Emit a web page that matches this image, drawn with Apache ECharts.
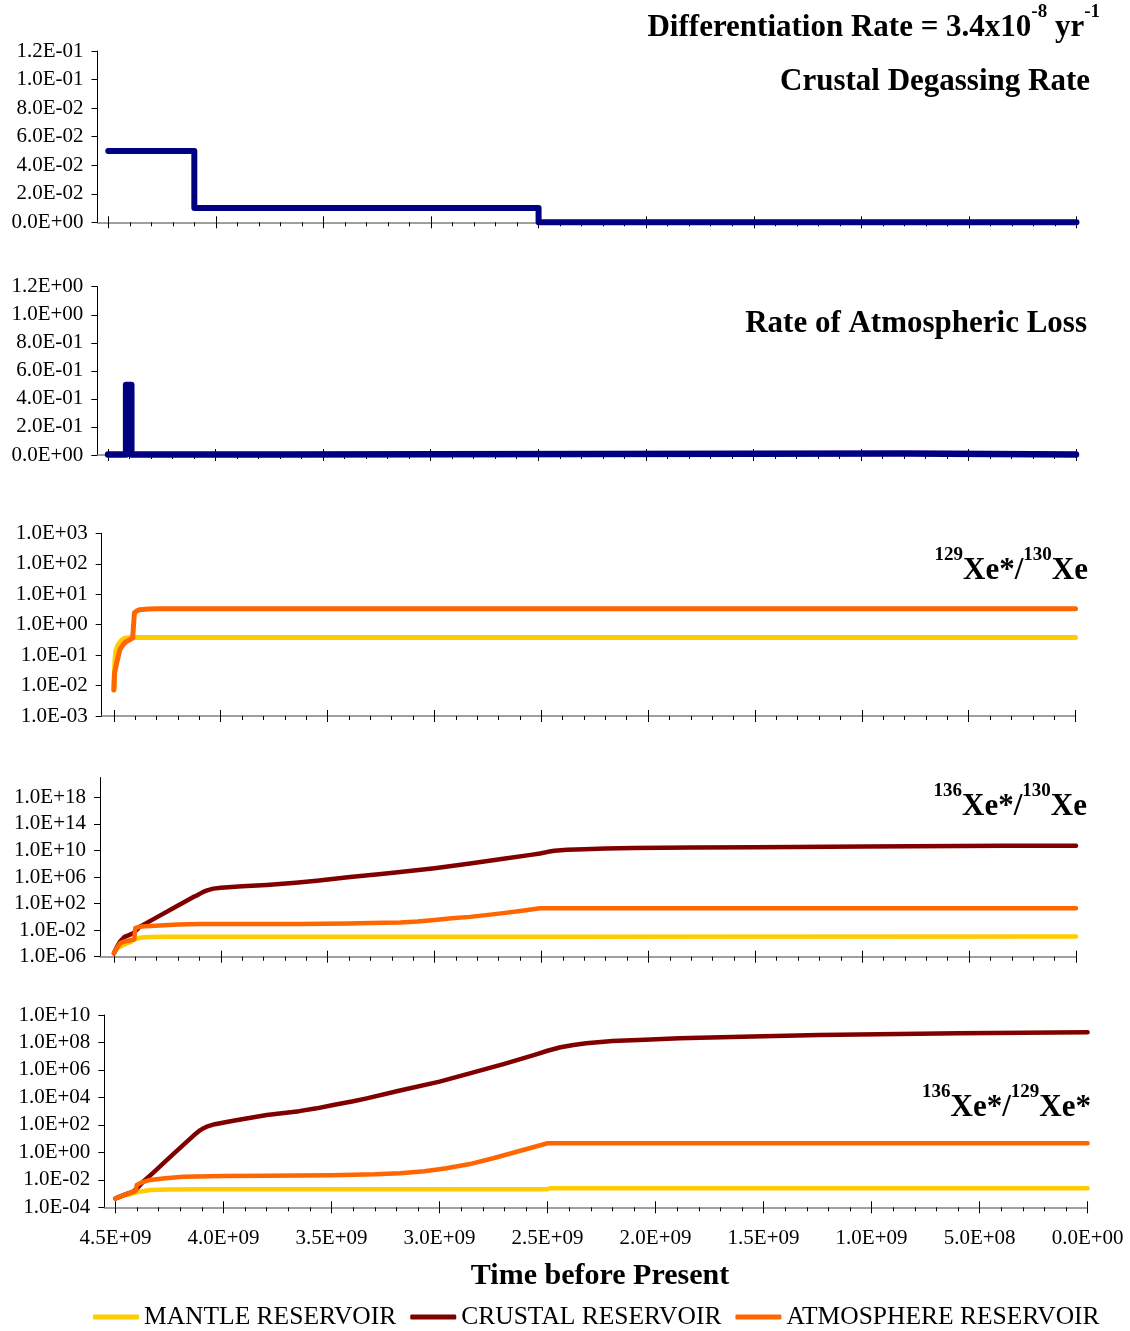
<!DOCTYPE html>
<html>
<head>
<meta charset="utf-8">
<script src="https://cdn.jsdelivr.net/npm/echarts@6/dist/echarts.min.js"></script>
<style>
  html, body { margin: 0; padding: 0; background: #ffffff; }
  #chart { width: 1130px; height: 1331px; }
</style>
</head>
<body>
<div id="chart"></div>
<script>
// ---- Tick values -------------------------------------------------------
const timeTicks = [0, 5e8, 1e9, 1.5e9, 2e9, 2.5e9, 3e9, 3.5e9, 4e9, 4.5e9];
const xe129Ticks = [1e-3, 1e-2, 1e-1, 1, 1e1, 1e2, 1e3];
const xe136Ticks = [1e-6, 1e-2, 1e2, 1e6, 1e10, 1e14, 1e18];
const xe136_129Ticks = [1e-4, 1e-2, 1, 1e2, 1e4, 1e6, 1e8, 1e10];

const reservoirNames = ['MANTLE RESERVOIR', 'CRUSTAL RESERVOIR', 'ATMOSPHERE RESERVOIR'];

// ---- Model output: [time before present (yr), value] -------------------
const crustalDegassingRate = [[4.5e9, 0.05], [4.1e9, 0.05], [4.1e9, 0.01], [2.5e9, 0.01], [2.5e9, 0], [0, 0]];

const atmosphericLossRate = [[4.5e9, 0.004], [4.416e9, 0.004], [4.416e9, 0.5], [4.392e9, 0.5], [4.392e9, 0.004],
  [3.7e9, 0.004], [3.7e9, 0.01], [8e8, 0.01], [8e8, 0.004], [0, 0.004]];

// 129Xe*/130Xe
const mantleXe129_130 = [[4.5e9, 0.0072], [4.497e9, 0.03], [4.495e9, 0.07], [4.49e9, 0.14], [4.48e9, 0.22],
  [4.465e9, 0.3], [4.449e9, 0.36], [4.42e9, 0.38], [0, 0.38]];
const atmosXe129_130 = [[4.5e9, 0.0072], [4.497e9, 0.025], [4.487e9, 0.055], [4.472e9, 0.15], [4.455e9, 0.23],
  [4.441e9, 0.28], [4.412e9, 0.36], [4.406e9, 0.37], [4.404e9, 2.45], [4.39e9, 2.9], [4.378e9, 3.1],
  [4.34e9, 3.25], [4.3e9, 3.3], [0, 3.3]];

// 136Xe*/130Xe
const mantleXe136_130 = [[4.5e9, 3.2e-6], [4.49e9, 1.26e-5], [4.472e9, 3.2e-5], [4.44e9, 1e-4], [4.417e9, 2e-4],
  [4.4e9, 5e-4], [4.394e9, 6.3e-4], [4.36e9, 8.3e-4], [4.33e9, 9.1e-4], [4.254e9, 1e-3], [2.5e9, 1.05e-3],
  [0, 1.07e-3]];
const crustXe136_130 = [[4.5e9, 3.2e-6], [4.495e9, 5.6e-6], [4.485e9, 3.2e-5], [4.472e9, 1.8e-4], [4.45e9, 1e-3],
  [4.43e9, 1.8e-3], [4.41e9, 3.4e-3], [4.395e9, 1e-2], [4.378e9, 3.4e-2], [4.3e9, 0.85], [4.2e9, 52],
  [4.13e9, 930], [4.11e9, 1.8e3], [4.097e9, 3.2e3], [4.08e9, 6.3e3], [4.06e9, 1.1e4], [4.035e9, 1.8e4],
  [4.0e9, 2.5e4], [3.9e9, 4e4], [3.785e9, 6.6e4], [3.65e9, 1.4e5], [3.551e9, 2.8e5], [3.395e9, 1e6],
  [3.25e9, 2.8e6], [3.161e9, 5.6e6], [3.0e9, 2.2e7], [2.834e9, 1.1e8], [2.67e9, 6.3e8], [2.55e9, 2.2e9],
  [2.507e9, 3.5e9], [2.47e9, 6.3e9], [2.44e9, 8.9e9], [2.38e9, 1.26e10], [2.3e9, 1.6e10], [2.2e9, 2e10],
  [2.071e9, 2.3e10], [1.8e9, 2.8e10], [1.505e9, 3.2e10], [9.82e8, 4e10], [3.29e8, 5e10], [0, 5.2e10]];
const atmosXe136_130 = [[4.5e9, 3.2e-6], [4.495e9, 6.3e-6], [4.485e9, 2.5e-5], [4.472e9, 1e-4], [4.45e9, 2e-4],
  [4.42e9, 3.2e-4], [4.405e9, 4e-4], [4.4e9, 2e-2], [4.39e9, 2.8e-2], [4.37e9, 3.5e-2], [4.33e9, 4.3e-2],
  [4.2e9, 7e-2], [4.1e9, 8.5e-2], [3.63e9, 8.5e-2], [3.4e9, 0.1], [3.3e9, 0.115], [3.161e9, 0.14], [3.08e9, 0.2],
  [3.0e9, 0.35], [2.92e9, 0.6], [2.834e9, 1.0], [2.75e9, 2.0], [2.67e9, 4.0], [2.6e9, 7.9], [2.507e9, 20],
  [0, 20]];

// 136Xe*/129Xe*
const mantleXe136_129 = [[4.5e9, 4.5e-4], [4.46e9, 7.1e-4], [4.418e9, 1.05e-3], [4.402e9, 1.26e-3],
  [4.341e9, 1.8e-3], [4.25e9, 2e-3], [4.109e9, 2.1e-3], [2.5e9, 2.1e-3], [2.49e9, 2.4e-3], [0, 2.4e-3]];
const crustXe136_129 = [[4.5e9, 4.5e-4], [4.46e9, 7.9e-4], [4.418e9, 1.4e-3], [4.4e9, 2.5e-3], [4.372e9, 7.2e-3],
  [4.32e9, 4e-2], [4.263e9, 0.275], [4.2e9, 2.2], [4.14e9, 16], [4.109e9, 40], [4.09e9, 60], [4.078e9, 74],
  [4.04e9, 112], [3.955e9, 200], [3.8e9, 525], [3.65e9, 1e3], [3.569e9, 1.6e3], [3.492e9, 2.8e3],
  [3.4e9, 5.2e3], [3.337e9, 8.5e3], [3.183e9, 3.2e4], [3.0e9, 1.4e5], [2.86e9, 5.6e5], [2.7e9, 2.8e6],
  [2.56e9, 1.26e7], [2.5e9, 2.5e7], [2.44e9, 4.5e7], [2.38e9, 6.6e7], [2.321e9, 8.7e7], [2.2e9, 1.26e8],
  [2.05e9, 1.6e8], [1.89e9, 2e8], [1.6e9, 2.6e8], [1.244e9, 3.5e8], [5.97e8, 4.6e8], [0, 5.5e8]];
const atmosXe136_129 = [[4.5e9, 4.5e-4], [4.46e9, 7.9e-4], [4.418e9, 1.4e-3], [4.405e9, 1.6e-3], [4.402e9, 4.2e-3],
  [4.38e9, 6.3e-3], [4.341e9, 9.8e-3], [4.27e9, 1.3e-2], [4.187e9, 1.7e-2], [4.0e9, 1.9e-2], [3.8e9, 2e-2],
  [3.5e9, 2.2e-2], [3.3e9, 2.5e-2], [3.183e9, 3e-2], [3.07e9, 4.2e-2], [2.968e9, 6.9e-2], [2.86e9, 0.14],
  [2.752e9, 0.37], [2.63e9, 1.26], [2.5e9, 4.6], [0, 4.6]];

// ---- Styling -----------------------------------------------------------
const FONT = '"Liberation Serif", "Times New Roman", serif';
const NAVY = '#000080';
const MANTLE = '#FFCC00';
const CRUST = '#800000';
const ATMOS = '#FF6600';

// panel frames: y-axis x, x position of t = 0, top, bottom, time at y-axis
const panels = [
  { left: 97.5, right: 1076.5, top: 51, bottom: 222.3, tMax: 4.55e9 },
  { left: 97.3, right: 1076, top: 286.7, bottom: 455, tMax: 4.55e9 },
  { left: 101.7, right: 1075.5, top: 533.3, bottom: 716, tMax: 4.557e9 },
  { left: 100, right: 1076, top: 777.5, bottom: 956.7, tMax: 4.565e9 },
  { left: 104.3, right: 1087.6, top: 1015, bottom: 1207.3, tMax: 4.552e9 }
];

// minor time ticks every 1e8 yr between the labelled ones
const minorTimeTicks = [];
for (let i = 0; i < timeTicks.length - 1; i++) {
  for (let k = 1; k < 5; k++) minorTimeTicks.push(timeTicks[i] + k * (timeTicks[i + 1] - timeTicks[i]) / 5);
}

function sci(v) {
  if (v === 0) return '0.0E+00';
  let e = Math.floor(Math.log10(Math.abs(v)) + 1e-9);
  let ms = (v / Math.pow(10, e)).toFixed(1);
  if (ms === '10.0') { e += 1; ms = '1.0'; }
  return ms + 'E' + (e < 0 ? '-' : '+') + String(Math.abs(e)).padStart(2, '0');
}

const labelText = { fontFamily: FONT, fontSize: 21, color: '#000' };

function timeAxes(gi, tMax, withLabels) {
  const base = { type: 'value', gridIndex: gi, min: 0, max: tMax, inverse: true, position: 'bottom',
    splitLine: { show: false } };
  return [
    Object.assign({}, base, {
      axisLine: { show: true, onZero: false, lineStyle: { color: '#808080', width: 1.5 } },
      axisTick: { show: true, customValues: timeTicks, length: 6, lineStyle: { color: '#000', width: 1 } },
      axisLabel: Object.assign({ show: withLabels, customValues: timeTicks, formatter: sci, margin: 21 }, labelText)
    }),
    Object.assign({}, base, {
      axisLine: { show: false },
      axisTick: { show: true, inside: true, customValues: timeTicks, length: 6, lineStyle: { color: '#000', width: 1 } },
      axisLabel: { show: false }
    }),
    Object.assign({}, base, {
      axisLine: { show: false },
      axisTick: { show: true, customValues: minorTimeTicks, length: 4, lineStyle: { color: '#000', width: 1 } },
      axisLabel: { show: false }
    })
  ];
}

function valueAxis(gi, opts, ticks) {
  const ax = Object.assign({
    gridIndex: gi, position: 'left',
    axisLine: { show: true, onZero: false, lineStyle: { color: '#000', width: 1 } },
    axisTick: { show: true, length: 6, lineStyle: { color: '#000', width: 1 } },
    axisLabel: Object.assign({ margin: 14, formatter: sci }, labelText),
    splitLine: { show: false }
  }, opts);
  if (ticks) {
    ax.axisTick.customValues = ticks;
    ax.axisLabel.customValues = ticks;
  }
  return ax;
}

function line(name, data, gi, color, width) {
  return {
    type: 'line', name: name, data: data, xAxisIndex: gi * 3, yAxisIndex: gi,
    showSymbol: false, symbol: 'none', clip: false, animation: false,
    itemStyle: { color: color },
    lineStyle: { color: color, width: width, cap: 'round', join: 'round' }
  };
}

const grids = panels.map(p => ({ left: p.left, top: p.top, width: p.right - p.left, height: p.bottom - p.top }));
let xAxes = [];
panels.forEach((p, i) => { xAxes = xAxes.concat(timeAxes(i, p.tMax, i === panels.length - 1)); });

const yAxes = [
  valueAxis(0, { type: 'value', min: 0, max: 0.12, interval: 0.02 }),
  valueAxis(1, { type: 'value', min: 0, max: 1.2, interval: 0.2 }),
  valueAxis(2, { type: 'log', min: 1e-3, max: 1e3 }, xe129Ticks),
  valueAxis(3, { type: 'log', min: 1e-6, max: 1e21 }, xe136Ticks),
  valueAxis(4, { type: 'log', min: 1e-4, max: 1e10 }, xe136_129Ticks)
];

const series = [
  line('Crustal Degassing Rate', crustalDegassingRate, 0, NAVY, 6),
  line('Rate of Atmospheric Loss', atmosphericLossRate, 1, NAVY, 6.5),
  line(reservoirNames[0], mantleXe129_130, 2, MANTLE, 5),
  line(reservoirNames[2], atmosXe129_130, 2, ATMOS, 5),
  line(reservoirNames[0], mantleXe136_130, 3, MANTLE, 4.5),
  line(reservoirNames[1], crustXe136_130, 3, CRUST, 4.5),
  line(reservoirNames[2], atmosXe136_130, 3, ATMOS, 4.5),
  line(reservoirNames[0], mantleXe136_129, 4, MANTLE, 4.5),
  line(reservoirNames[1], crustXe136_129, 4, CRUST, 4.5),
  line(reservoirNames[2], atmosXe136_129, 4, ATMOS, 4.5)
];

// panel headings with superscripts
const rich = {
  m: { fontFamily: FONT, fontSize: 31, fontWeight: 'bold', lineHeight: 40, verticalAlign: 'bottom', fill: '#000' },
  s: { fontFamily: FONT, fontSize: 19, fontWeight: 'bold', lineHeight: 12, verticalAlign: 'top', fill: '#000' }
};
const headings = [
  { x: 1100, y: 23, text: '{m|Differentiation Rate = 3.4x10}{s|-8}{m| yr}{s|-1}' },
  { x: 1090, y: 77, text: '{m|Crustal Degassing Rate}' },
  { x: 1087, y: 319, text: '{m|Rate of Atmospheric Loss}' },
  { x: 1088, y: 566, text: '{s|129}{m|Xe*/}{s|130}{m|Xe}' },
  { x: 1087, y: 802, text: '{s|136}{m|Xe*/}{s|130}{m|Xe}' },
  { x: 1091, y: 1103, text: '{s|136}{m|Xe*/}{s|129}{m|Xe*}' }
];
const graphic = headings.map(h => ({
  type: 'text', x: h.x, y: h.y, z: 10,
  style: { text: h.text, rich: rich, align: 'right', verticalAlign: 'middle' }
}));
graphic.push({
  type: 'text', x: 600, y: 1276, z: 10,
  style: { text: 'Time before Present', font: 'bold 30px ' + FONT, fill: '#000', align: 'center', verticalAlign: 'middle' }
});

const chart = echarts.init(document.getElementById('chart'), null, { renderer: 'canvas' });
chart.setOption({
  animation: false,
  backgroundColor: '#ffffff',
  grid: grids,
  xAxis: xAxes,
  yAxis: yAxes,
  legend: {
    data: reservoirNames, left: 88, top: 1299, itemWidth: 46, itemHeight: 5, itemGap: 14,
    icon: 'roundRect', selectedMode: false,
    textStyle: { fontFamily: FONT, fontSize: 25.5, color: '#000' }
  },
  graphic: graphic,
  series: series
});
</script>
</body>
</html>
